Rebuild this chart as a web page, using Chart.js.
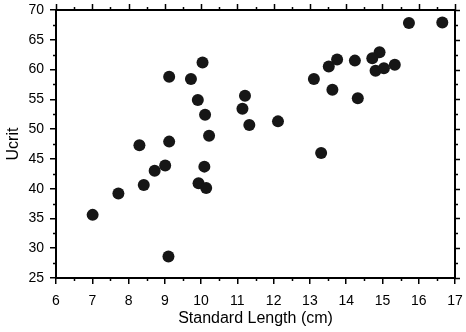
<!DOCTYPE html>
<html>
<head>
<meta charset="utf-8">
<script src="https://cdn.jsdelivr.net/npm/chart.js@4"></script>
<style>
	html, body { margin: 0; padding: 0; background: #fff; }
	#wrap { width: 466px; height: 332px; }
</style>
</head>
<body>
<div id="wrap"><canvas id="chart" width="466" height="332"></canvas></div>
<script>
// Standard length (cm) vs. Ucrit, one entry per fish.
const lengths = [ 7.01, 7.72, 8.42, 8.72, 8.30, 10.04, 9.12, 9.72, 9.91, 10.11, 10.22, 9.12, 11.21, 11.14, 11.33, 12.12,
	9.01, 10.09, 9.93, 10.14, 9.10, 15.73, 16.65, 14.92, 14.72, 13.75, 13.52, 14.24, 14.81, 15.04, 15.34, 13.11, 13.62, 14.32, 13.31 ];
const ucrit = [ 35.6, 39.2, 40.6, 43.0, 47.3, 61.2, 58.8, 58.4, 54.9, 52.4, 48.9, 47.9, 55.6, 53.4, 50.7, 51.3,
	43.9, 43.7, 40.9, 40.1, 28.6, 67.8, 67.9, 62.9, 61.9, 61.7, 60.5, 61.5, 59.8, 60.2, 60.8, 58.4, 56.6, 55.2, 46.0 ];

const xRange = [ 6, 17 ];
const yRange = [ 25, 70 ];

const ink = '#000';
const font = 'Liberation Sans, Arial, sans-serif';

// Frame on top/right plus minor ticks all round, placed through the chart scales.
const framePlugin = {
	id: 'frame',
	afterDraw( chart ) {
		const { ctx, chartArea: a, scales: { x, y } } = chart;
		ctx.save();
		ctx.strokeStyle = ink;
		ctx.lineWidth = 2;
		ctx.beginPath();
		ctx.moveTo( a.left, a.top );
		ctx.lineTo( a.right, a.top );
		ctx.lineTo( a.right, a.bottom );
		ctx.stroke();
		ctx.lineWidth = 1.5;
		ctx.beginPath();
		for ( let v = xRange[ 0 ]; v <= xRange[ 1 ]; v += 0.5 ) {
			const px = Math.round( x.getPixelForValue( v ) ) + 0.5;
			const major = v % 1 === 0;
			ctx.moveTo( px, a.top );
			ctx.lineTo( px, a.top - ( major ? 6 : 3 ) );
			if ( ! major ) {
				ctx.moveTo( px, a.bottom );
				ctx.lineTo( px, a.bottom + 3 );
			}
		}
		for ( let v = yRange[ 0 ]; v <= yRange[ 1 ]; v += 2.5 ) {
			const py = Math.round( y.getPixelForValue( v ) ) + 0.5;
			const major = v % 5 === 0;
			ctx.moveTo( a.right, py );
			ctx.lineTo( a.right + ( major ? 5 : 3 ), py );
			if ( ! major ) {
				ctx.moveTo( a.left, py );
				ctx.lineTo( a.left - 3, py );
			}
		}
		ctx.stroke();
		ctx.restore();
	},
};

new Chart( document.getElementById( 'chart' ), {
	type: 'scatter',
	data: {
		datasets: [ {
			data: lengths.map( ( l, i ) => ( { x: l, y: ucrit[ i ] } ) ),
			backgroundColor: '#161616',
			borderColor: '#161616',
			borderWidth: 0,
			pointRadius: 6,
			pointHoverRadius: 6,
		} ],
	},
	options: {
		responsive: false,
		animation: false,
		layout: { padding: { top: 10, right: 11, left: 0, bottom: 0 } },
		plugins: { legend: { display: false }, tooltip: { enabled: false } },
		scales: {
			x: {
				type: 'linear',
				min: xRange[ 0 ],
				max: xRange[ 1 ],
				afterFit: ( s ) => { s.height = 54; s.paddingLeft = 0; s.paddingRight = 0; },
				border: { display: true, color: ink, width: 2 },
				grid: { display: true, drawOnChartArea: false, drawTicks: true, tickLength: 6, color: ink, lineWidth: 1.5 },
				ticks: { stepSize: 1, color: ink, padding: 9, font: { family: font, size: 14 } },
				title: { display: true, text: 'Standard Length (cm)', color: ink, font: { family: font, size: 16 }, padding: { top: 0, bottom: 4 } },
			},
			y: {
				type: 'linear',
				min: yRange[ 0 ],
				max: yRange[ 1 ],
				afterFit: ( s ) => { s.width = 56; s.paddingTop = 0; s.paddingBottom = 0; },
				border: { display: true, color: ink, width: 2 },
				grid: { display: true, drawOnChartArea: false, drawTicks: true, tickLength: 6, color: ink, lineWidth: 1.5 },
				ticks: { stepSize: 5, color: ink, padding: 6, font: { family: font, size: 14 } },
				title: { display: true, text: 'Ucrit', color: ink, font: { family: font, size: 16 }, padding: { top: 4, bottom: 0 } },
			},
		},
	},
	plugins: [ framePlugin ],
} );
</script>
</body>
</html>
